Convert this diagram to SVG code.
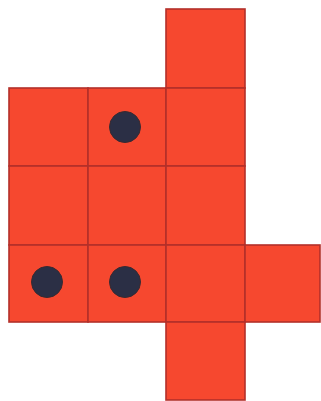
<svg xmlns="http://www.w3.org/2000/svg" width="321" height="401" viewBox="0 0 321 401">
<style>
.sq{fill:#f6482f;stroke:#b3302a;stroke-width:1.6}
.dot{fill:#2b2f45;stroke:#3a2a30;stroke-width:1}
</style>
<rect width="321" height="401" fill="#ffffff"/>
<g id="squares">
<rect class="sq" x="166" y="9" width="79" height="79"/>
<rect class="sq" x="9" y="88" width="79" height="78"/>
<rect class="sq" x="88" y="88" width="78" height="78"/>
<rect class="sq" x="166" y="88" width="79" height="78"/>
<rect class="sq" x="9" y="166" width="79" height="79"/>
<rect class="sq" x="88" y="166" width="78" height="79"/>
<rect class="sq" x="166" y="166" width="79" height="79"/>
<rect class="sq" x="9" y="245" width="79" height="77"/>
<rect class="sq" x="88" y="245" width="78" height="77"/>
<rect class="sq" x="166" y="245" width="79" height="77"/>
<rect class="sq" x="245" y="245" width="75" height="77"/>
<rect class="sq" x="166" y="322" width="79" height="78"/>
</g>
<g id="dots">
<circle class="dot" cx="125" cy="127" r="15.5"/>
<circle class="dot" cx="47" cy="282" r="15.5"/>
<circle class="dot" cx="125" cy="282" r="15.5"/>
</g>
</svg>
